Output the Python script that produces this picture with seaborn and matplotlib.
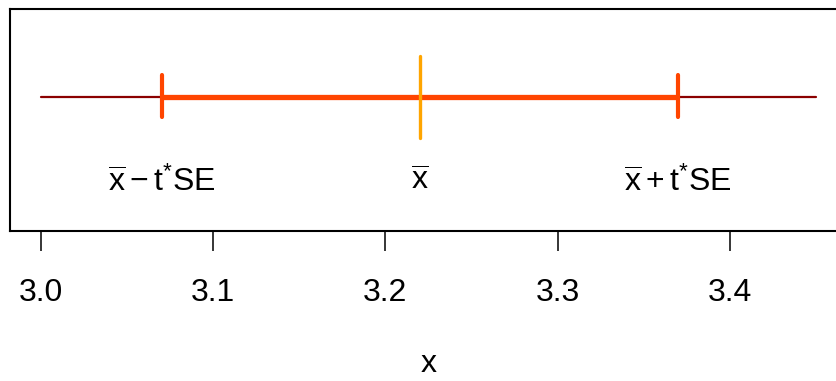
import matplotlib
matplotlib.use("Agg")
import matplotlib.pyplot as plt
import seaborn as sns
import pandas as pd

# values
range_x = [3.0, 3.45]
ci_x = [3.07, 3.37]
xbar = 3.22
tick_values = [3.0, 3.1, 3.2, 3.3, 3.4]
tick_labels = ["3.0", "3.1", "3.2", "3.3", "3.4"]
text_x = [3.07, 3.22, 3.37]
text_labels = [r"$\overline{\mathrm{x}}-\mathrm{t}^{*}\mathrm{SE}$",
               r"$\overline{\mathrm{x}}$",
               r"$\overline{\mathrm{x}}+\mathrm{t}^{*}\mathrm{SE}$"]

sns.set_style("white")
plt.rcParams['font.family'] = ['Liberation Sans', 'DejaVu Sans']
plt.rcParams['mathtext.fontset'] = 'custom'
plt.rcParams['mathtext.rm'] = 'Liberation Sans'
plt.rcParams['mathtext.it'] = 'Liberation Sans'
plt.rcParams['mathtext.bf'] = 'Liberation Sans'
plt.rcParams['text.color'] = 'black'
plt.rcParams['axes.labelcolor'] = 'black'
plt.rcParams['xtick.color'] = 'black'

fig = plt.figure(figsize=(8.36, 3.81), dpi=100)
ax = fig.add_axes([10 / 836, 150 / 381, 837 / 836, 222 / 381])

line_y = 0.604
range_df = pd.DataFrame({'x': range_x, 'y': [line_y] * 2})
ci_df = pd.DataFrame({'x': ci_x, 'y': [line_y] * 2})

sns.lineplot(data=range_df, x='x', y='y', color='#8B0000', linewidth=1.6, ax=ax)
sns.lineplot(data=ci_df, x='x', y='y', color='#FF4500', linewidth=3.8, ax=ax,
             solid_capstyle='butt')
ax.vlines(ci_x, 0.514, 0.703, color='#FF4500', linewidth=3.0, capstyle='round')
ax.vlines([xbar], 0.42, 0.79, color='#FFA500', linewidth=2.4, capstyle='round')

for tx, lab in zip(text_x, text_labels):
    ax.text(tx, 0.22, lab, ha='center', va='center', fontsize=23, color='black')

ax.set_xlim(2.982, 3.468)
ax.set_ylim(0, 1)
ax.set_xticks(tick_values)
ax.set_xticklabels(tick_labels, fontsize=23)
ax.set_yticks([])
ax.tick_params(axis='x', direction='out', length=14.5, width=1.1, pad=19,
               bottom=True, color='black', labelcolor='black')
ax.set_xlabel('x', fontsize=23, labelpad=30, color='black')
ax.set_ylabel('')
ax.spines['right'].set_visible(False)
for s in ax.spines.values():
    s.set_color('black')
    s.set_linewidth(1.5)

fig.savefig('out.png', dpi=100)
